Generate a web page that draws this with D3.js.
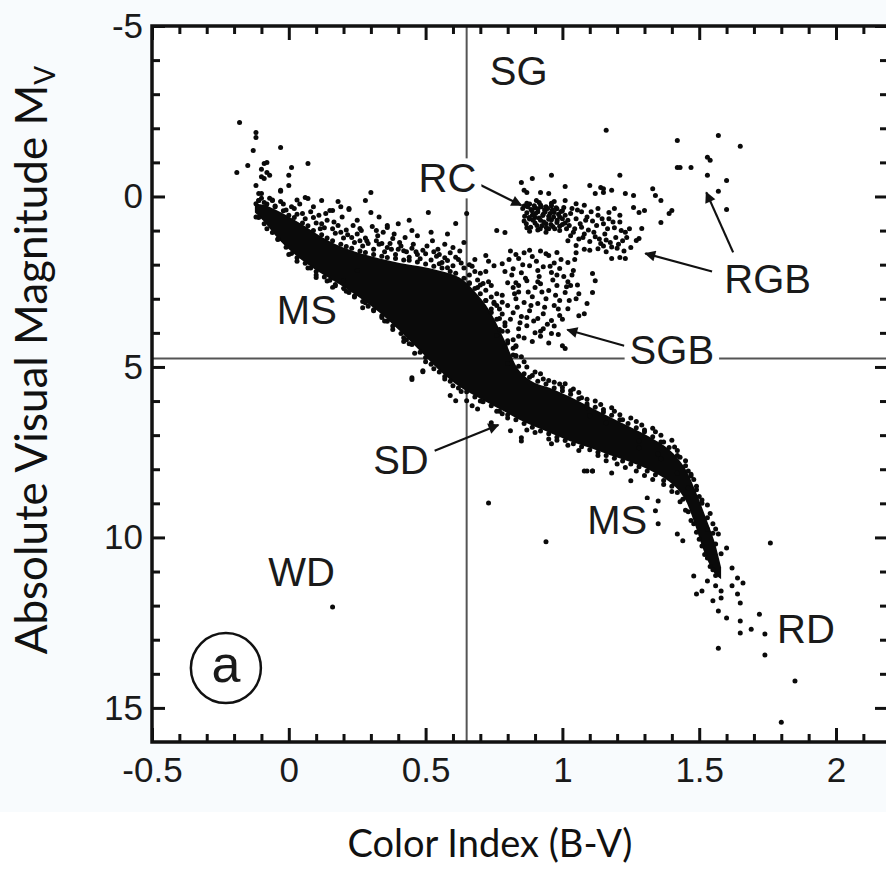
<!DOCTYPE html>
<html>
<head>
<meta charset="utf-8">
<script src="https://cdn.jsdelivr.net/npm/d3@7"></script>
<style>
  body { margin: 0; background: #ffffff; }
  svg { display: block; }
</style>
</head>
<body>
<svg id="chart" width="886" height="878"></svg>
<script>
// ---- Colour-magnitude data: [B-V, Mv] ----

// Solid core of the main sequence: colour index with bright and faint edges
const msCoreBV   = [-0.124,-0.088,-0.033,0.040,0.113,0.186,0.259,0.332,0.405,0.478,0.551,0.624,0.679,0.734,0.788,0.843,0.898,0.953,1.026,1.099,1.172,1.245,1.318,1.391,1.445,1.482,1.518,1.555,1.580];
const msCoreTop  = [0.21,0.25,0.45,0.78,1.15,1.45,1.66,1.82,1.95,2.05,2.18,2.38,2.78,3.35,4.20,5.11,5.46,5.61,5.87,6.17,6.46,6.75,7.05,7.43,7.93,8.55,9.28,10.10,10.87];
const msCoreBot  = [0.47,0.76,1.29,1.82,2.23,2.58,2.97,3.41,3.94,4.52,5.11,5.58,5.84,6.08,6.31,6.55,6.75,6.93,7.17,7.37,7.58,7.78,8.02,8.37,8.84,9.57,10.43,11.04,11.22];

// Stars straddling the bright edge of the core
const msEdgeTop = [
  [-0.11,0.12],[-0.08,0.22],[-0.05,0.30],[-0.02,0.42],[0.00,0.55],[0.02,0.62],[0.05,0.78],[0.07,0.86],
  [0.09,1.00],[0.12,1.12],[0.14,1.22],[0.16,1.30],[0.19,1.40],[0.21,1.47],[0.23,1.52],[0.26,1.60],
  [0.28,1.64],[0.31,1.70],[0.34,1.75],[0.36,1.79],[0.39,1.82],[0.42,1.86],[0.44,1.87],[0.47,1.92],
  [0.50,1.98],[0.53,2.05],[0.56,2.10],[0.59,2.20],[0.61,2.25],[0.64,2.40],[0.66,2.55],[0.68,2.70],
  [0.70,2.85],[0.72,3.05],[0.74,3.30],[0.76,3.60],[0.78,3.95],[0.80,4.30],[0.82,4.65],[0.84,4.98],
  [0.86,5.20],[0.88,5.30],[0.91,5.42],[0.94,5.50],[0.97,5.62],[1.00,5.70],[1.03,5.80],[1.06,5.93],
  [1.09,6.08],[1.12,6.18],[1.15,6.32],[1.18,6.42],[1.21,6.55],[1.24,6.66],[1.27,6.78],[1.30,6.90],
  [1.33,7.05],[1.36,7.20],[1.39,7.36],[1.42,7.60],[1.45,7.90],[1.47,8.20],[1.49,8.60],[1.51,9.00],
  [1.53,9.42],[1.55,9.88]
];

// Stars straddling the faint edge of the core
const msEdgeBottom = [
  [-0.11,0.62],[-0.09,0.80],[-0.06,1.06],[-0.04,1.26],[-0.01,1.49],[0.01,1.67],[0.03,1.80],[0.06,1.96],
  [0.08,2.10],[0.10,2.20],[0.13,2.36],[0.15,2.46],[0.17,2.58],[0.20,2.70],[0.22,2.82],[0.24,2.92],
  [0.27,3.08],[0.29,3.22],[0.31,3.32],[0.34,3.50],[0.36,3.66],[0.38,3.80],[0.41,4.02],[0.43,4.20],
  [0.45,4.34],[0.48,4.57],[0.50,4.72],[0.52,4.92],[0.55,5.15],[0.57,5.28],[0.59,5.42],[0.62,5.62],
  [0.65,5.73],[0.68,5.88],[0.71,6.02],[0.74,6.14],[0.77,6.30],[0.80,6.40],[0.83,6.55],[0.86,6.66],
  [0.89,6.77],[0.92,6.88],[0.95,6.96],[0.98,7.06],[1.01,7.16],[1.04,7.25],[1.07,7.34],[1.10,7.43],
  [1.13,7.50],[1.16,7.60],[1.19,7.68],[1.22,7.76],[1.25,7.85],[1.28,7.93],[1.31,8.05],[1.34,8.16],
  [1.37,8.33],[1.40,8.50],[1.42,8.68],[1.44,8.88],[1.46,9.25],[1.48,9.60],[1.50,10.05],[1.52,10.50],
  [1.54,10.85],[1.56,11.12]
];

// Hot upper main sequence and stars scattered above the band
const hotStars = [
  [-0.18,-2.17],[-0.12,-1.88],[-0.12,-1.73],[-0.13,-1.35],[-0.03,-1.44],[-0.15,-0.91],[-0.19,-0.70],
  [-0.09,-0.97],[-0.08,-1.00],[-0.10,-0.80],[-0.08,-0.70],[-0.07,-0.62],[-0.09,-0.53],[-0.10,-0.58],
  [0.01,-0.85],[0.07,-0.97],[0.00,-0.62],[0.00,-0.32],[-0.03,-0.15],[-0.12,-0.32],[-0.11,-0.09],
  [0.30,-0.12],[0.28,0.12],[0.30,0.47],[0.06,0.03],[0.12,0.12],[0.18,0.15],[0.22,0.38],[0.25,0.70],
  [0.36,0.91],[-0.12,0.21],[-0.06,0.12],[0.16,0.41],[-0.10,-0.09],[-0.03,-0.18],[0.07,0.06],[0.15,0.41],
  [0.22,0.35],[0.36,0.85],[0.45,1.00],[0.47,1.15],[0.51,0.47],[0.61,0.79],[0.26,0.94],[0.32,1.00],
  [0.34,1.38],[0.38,1.23],[0.42,1.59],[0.56,1.94],[0.60,2.03],[0.47,-0.12],[0.65,0.50],
  [0.03,0.10],[0.09,0.30],[0.115,0.95],[0.135,0.50],[0.165,0.75],[0.195,0.60],[0.215,1.12],[0.235,0.85],
  [0.265,1.00],[0.285,1.30],[0.305,0.88],[0.325,1.15],[0.345,1.05],[0.375,1.55],[0.385,1.10],[0.405,1.35],
  [0.425,1.20],[0.455,1.40],[0.465,1.62],[0.505,1.45],[0.525,1.30],[0.545,1.55],[0.570,1.40],[0.600,1.50],
  [0.625,1.60],[0.640,1.35],[0.580,1.10],[0.520,1.05],[0.400,0.80],[0.440,0.70],[0.330,0.60],[0.190,0.30]
];

// Stars scattered further from the bright edge of the main sequence
const msUpperFringe = [
  [-0.10,0.05],[-0.06,0.10],[-0.02,0.22],[0.02,0.35],[0.05,0.50],[0.09,0.62],[0.12,0.80],[0.16,0.95],
  [0.19,1.05],[0.23,1.20],[0.26,1.30],[0.29,1.38],[0.33,1.40],[0.36,1.50],[0.40,1.55],[0.43,1.62],
  [0.47,1.70],[0.50,1.68],[0.54,1.75],[0.57,1.80],[0.62,1.85],[0.68,2.20],[0.71,2.55],[0.74,2.95],
  [0.77,3.30],[0.79,3.70],[0.82,4.20],[0.86,4.85],[0.90,5.15],[0.93,5.35],[0.97,5.45],[1.00,5.60],
  [1.04,5.65],[1.07,5.90],[1.12,6.00],[1.15,6.25],[1.19,6.30],[1.22,6.55],[1.27,6.60],[1.30,6.85],
  [1.34,6.90],[1.37,7.20],[1.41,7.35],[1.43,7.65],[1.46,8.05],[1.48,8.30],[1.50,8.80],[1.53,9.05],
  [1.55,9.60],[1.57,9.90],[1.01,5.49],[1.09,6.20],[1.01,4.46],[0.83,4.67],[0.82,4.45],
  [-0.11,0.12],[-0.09,0.18],[-0.07,0.05],[-0.05,0.28],[-0.03,0.15],[-0.01,0.40],[0.01,0.30],[0.03,0.52],
  [0.04,0.22],[0.06,0.65],[0.08,0.45],[0.10,0.78],[0.11,0.55],[0.13,0.92],[0.14,0.70],[0.17,1.08],
  [0.18,0.85],[0.20,1.22],[0.21,0.98],[0.24,1.35],[0.25,1.10],[0.27,1.45],[0.28,1.22],[0.31,1.55],
  [0.32,1.30],[0.35,1.62],[0.37,1.38],[0.39,1.70],[0.41,1.45],[0.44,1.78],[0.45,1.52],[0.48,1.83],
  [0.49,1.58],[0.52,1.86],[0.53,1.62],[0.55,1.70],[0.58,1.88],[0.59,1.65],[0.61,1.78],[0.63,1.95],
  [0.64,2.10],[0.66,2.30],[0.67,2.05],[0.69,2.45],[0.70,2.25],[0.72,2.75],[0.73,2.50],[0.75,3.10],
  [0.76,2.85],[0.78,3.45],[0.78,3.10],[0.80,3.95],[0.81,3.60],[0.83,4.40],[0.84,4.10],[0.85,4.70],
  [0.87,5.00],[0.89,5.25],[0.92,5.20],[0.95,5.40],[0.99,5.50],[1.03,5.70],[1.06,5.75],[1.09,5.95],
  [1.14,6.10],[1.18,6.20],[1.21,6.40],[1.25,6.50],[1.29,6.70],[1.33,6.80],[1.36,7.00],[1.40,7.15],
  [1.42,7.45],[1.45,7.75],[1.47,8.15],[1.49,8.50],[1.51,8.90],[1.54,9.30],[1.56,9.75],
  [0.66,2.00],[0.70,2.60],[0.72,2.20],[0.74,3.40],[0.76,3.20],[0.77,3.90],[0.79,4.40],[0.81,4.90],
  [0.73,1.90],[0.68,1.85]
];

// Stars scattered below the faint edge of the main sequence
const msLowerFringe = [
  [-0.12,0.60],[-0.08,0.95],[-0.04,1.25],[0.00,1.70],[0.03,1.90],[0.07,2.10],[0.10,2.30],[0.14,2.48],
  [0.17,2.62],[0.21,2.78],[0.24,2.95],[0.28,3.12],[0.31,3.35],[0.35,3.65],[0.38,3.90],[0.42,4.25],
  [0.46,4.60],[0.50,4.85],[0.53,5.05],[0.57,5.35],[0.60,5.55],[0.63,5.72],[0.70,6.00],[0.76,6.30],
  [0.80,6.50],[0.87,6.85],[0.90,6.92],[0.98,7.15],[1.02,7.30],[1.06,7.45],[1.13,7.60],[1.16,7.75],
  [1.20,7.85],[1.23,7.95],[1.27,8.05],[1.30,8.18],[1.33,8.30],[1.37,8.45],[1.40,8.65],[1.43,8.95],
  [1.45,9.20],[1.47,9.50],[1.49,9.85],[1.51,10.25],[1.53,10.60],[1.55,10.95],
  [0.10,2.38],[0.16,2.67],[0.27,3.26],[0.34,3.55],[0.42,4.14],[0.44,4.32],[0.45,5.32],[0.49,5.11],
  [0.25,2.17],[0.20,2.47]
];

// Subdwarfs below the main sequence
const subdwarfStars = [
  [0.45,5.37],[0.49,5.14],[0.59,5.84],[0.61,5.99],[0.65,5.99],[0.67,6.14],[0.69,6.23],[0.78,6.37],
  [0.74,6.64],[0.81,6.87],[0.85,7.08],[0.85,7.17],[0.95,7.11],[0.96,7.25],[1.09,8.05],[1.11,8.05]
];

// Red clump
const redClump = [
  [0.86,0.28],[0.88,0.22],[0.90,0.33],[0.92,0.25],[0.94,0.30],[0.96,0.27],[0.98,0.36],[1.00,0.42],
  [0.87,0.48],[0.89,0.55],[0.91,0.45],[0.93,0.52],[0.95,0.58],[0.97,0.47],[0.99,0.60],[1.01,0.55],
  [0.86,0.72],[0.88,0.66],[0.90,0.78],[0.92,0.70],[0.94,0.80],[0.96,0.68],[0.98,0.76],[1.00,0.82],
  [0.87,0.92],[0.91,0.98],[0.95,0.95],[0.99,1.00],[0.935,0.40],[0.90,0.62],[0.925,0.86],[0.965,0.88],
  [0.885,0.38],[1.02,0.70],[0.97,0.15],[0.905,0.12],
  [0.855,0.35],[0.862,0.58],[0.868,0.80],[0.873,0.30],[0.878,0.62],[0.884,0.90],[0.889,0.42],[0.893,0.70],
  [0.897,0.27],[0.902,0.50],[0.907,0.85],[0.911,0.36],[0.915,0.63],[0.919,0.95],[0.923,0.30],[0.928,0.56],
  [0.932,0.75],[0.937,0.45],[0.941,0.92],[0.946,0.35],[0.950,0.67],[0.955,0.50],[0.958,0.82],[0.963,0.40],
  [0.968,0.60],[0.972,0.95],[0.977,0.33],[0.981,0.70],[0.986,0.52],[0.990,0.87],[0.995,0.44],[1.000,0.65],
  [1.005,0.32],[1.010,0.78],[1.015,0.95],[0.870,0.20],[0.915,0.18],[0.960,0.20],[0.880,1.02],[0.940,1.05]
];

// Red giant branch
const giantBranch = [
  [1.03,0.50],[1.05,0.65],[1.07,0.45],[1.09,0.60],[1.11,0.72],[1.13,0.55],[1.15,0.80],[1.17,0.65],
  [1.19,0.92],[1.21,0.75],[1.23,1.05],[1.04,1.05],[1.06,1.25],[1.08,1.10],[1.10,1.32],[1.12,1.18],
  [1.14,1.38],[1.16,1.28],[1.18,1.48],[1.20,1.52],[1.22,1.30],[1.02,1.30],[1.05,1.44],[1.08,1.55],
  [1.13,1.53],[1.16,1.62],[1.08,0.26],[1.13,0.35],[1.17,0.47],[1.21,0.55],
  [1.025,0.85],[1.035,0.35],[1.045,0.95],[1.055,0.40],[1.065,0.80],[1.075,1.20],[1.085,0.70],[1.095,0.98],
  [1.105,0.45],[1.115,1.05],[1.125,0.85],[1.135,1.25],[1.145,0.65],[1.155,1.10],[1.165,0.95],[1.175,1.35],
  [1.185,0.75],[1.195,1.20],[1.205,1.40],[1.215,1.00],[1.225,1.60],[1.235,1.20],[1.245,0.95],[1.05,1.65],
  [1.10,1.58],[1.15,1.45],[1.03,1.15],[1.07,0.90],
  [1.16,-1.94],[1.42,-1.64],[1.42,-0.85],[0.96,-0.62],[1.21,-0.62],[0.85,-0.41],[0.89,-0.53],
  [0.86,-0.18],[0.87,-0.12],[0.92,-0.12],[0.95,-0.09],[1.01,-0.29],[1.01,0.12],[1.05,0.21],
  [1.10,-0.32],[1.14,-0.26],[1.15,-0.12],[1.18,-0.18],[1.12,-0.09],[1.23,-0.09],[1.26,-0.03],
  [1.26,0.32],[1.28,0.47],[1.30,0.41],[1.33,-0.23],[1.34,-0.03],[1.36,0.12],[1.40,0.41],[1.39,0.50],
  [1.36,0.76],[1.29,0.94],[1.28,1.23],[1.27,1.29],[1.25,1.50],[1.43,-0.85],[1.47,-0.85],[1.53,-1.15],
  [1.54,-1.06],[1.53,-0.62],[1.57,-1.79],[1.65,-1.47],[1.60,-0.47],[1.57,-0.15],[1.60,0.38],
  [1.15,-0.23],[1.19,0.35],[1.18,1.82],[1.23,1.82],[1.21,1.79]
];

// Subgiant branch
const subgiantStars = [
  [0.81,1.60],[0.84,1.82],[0.86,1.65],[0.89,1.76],[0.92,1.60],[0.95,1.73],[0.98,1.64],[0.82,2.12],
  [0.85,2.24],[0.88,2.03],[0.91,2.17],[0.93,2.06],[0.96,2.23],[0.99,2.11],[1.02,1.94],[1.04,2.17],
  [0.80,2.53],[0.84,2.61],[0.87,2.47],[0.90,2.67],[0.92,2.56],[0.95,2.76],[0.98,2.61],[1.01,2.82],
  [1.03,2.61],[0.83,3.00],[0.86,3.11],[0.89,2.94],[0.91,3.14],[0.94,3.00],[0.97,3.20],[0.99,3.05],
  [1.02,3.29],[0.82,3.41],[0.85,3.52],[0.88,3.35],[0.91,3.58],[0.93,3.44],[0.96,3.64],[0.99,3.49],
  [0.84,3.88],[0.87,3.79],[0.90,4.00],[0.93,3.88],[0.96,4.02],[0.77,3.58],[0.79,3.79],[0.76,4.08],
  [0.80,4.23],[0.83,4.38],
  [0.76,1.00],[0.79,1.06],[0.72,1.73],[0.75,2.03],[0.78,1.97],[1.11,2.26],[1.12,2.47],[1.11,2.82],
  [1.06,2.85],[1.09,3.14],[1.08,3.44],[0.74,2.61],[0.83,2.53],[0.82,2.67],[1.00,4.38],[0.83,4.67],
  [0.80,4.90],[0.66,2.53],[0.69,2.67],[0.55,1.97],[0.58,2.09],[0.72,3.05],[0.75,3.14],
  [0.805,1.85],[0.815,2.30],[0.825,2.85],[0.835,3.25],[0.845,3.70],[0.855,2.00],[0.865,2.40],[0.875,2.80],
  [0.885,3.20],[0.895,3.65],[0.905,1.90],[0.915,2.35],[0.925,2.80],[0.935,3.25],[0.945,3.75],[0.955,2.05],
  [0.965,2.45],[0.975,2.90],[0.985,3.30],[0.995,1.85],[1.005,2.35],[1.015,2.65],[1.025,3.05],[1.035,2.30],
  [1.045,1.85],[1.055,2.60],[0.88,1.58],[0.94,1.68],[0.97,1.95],[0.86,4.15],[0.89,4.25],[0.92,4.10],
  [0.95,4.30],[0.985,4.05],[1.06,3.50],[0.80,3.20],[0.78,2.90],[0.79,2.20],[0.83,1.70],[0.87,3.55],
  [0.92,3.95],[0.97,3.80],[1.00,3.60],[1.05,3.00],[0.84,2.80],[0.91,2.50],[0.98,2.30],[1.02,2.50]
];

// Lower main sequence and red dwarfs
const lowerMS = [
  [1.09,6.14],[1.10,6.43],[1.16,6.64],[1.08,8.05],[1.11,8.05],[1.18,8.11],[1.28,7.17],[1.28,7.37],
  [1.35,7.55],[1.36,7.69],[1.42,8.11],[1.25,8.34],[1.31,8.84],[1.35,8.93],[1.34,9.22],[1.35,9.60],
  [1.42,9.90],[1.44,10.10],[1.46,8.55],[1.46,8.84],[1.53,9.75],[1.56,10.19],[1.60,10.31],[1.58,10.48],
  [1.48,11.13],[1.53,11.28],[1.56,11.42],[1.49,11.66],[1.51,11.57],[1.55,11.86],[1.58,11.57],[1.58,11.78],
  [1.62,10.90],[1.64,11.19],[1.66,11.34],[1.62,11.42],[1.64,11.66],[1.65,11.92],
  [1.57,12.16],[1.60,12.36],[1.65,12.45],[1.72,12.25],[1.65,12.80],[1.69,12.69],[1.74,12.83],
  [1.57,13.25],[1.74,13.45],[1.85,14.21],[1.80,15.42]
];

// Isolated stars
const outliers = [[0.73,8.99],[0.94,10.13],[0.16,12.04],[1.76,10.16]];

// Solar reference values
const sunBV = 0.65;
const sunMv = 4.75;

// Axis ticks
const xMajorTicks = [-0.5, 0, 0.5, 1, 1.5, 2];
const xMinorTicks = [-0.4,-0.3,-0.2,-0.1,0.1,0.2,0.3,0.4,0.6,0.7,0.8,0.9,1.1,1.2,1.3,1.4,1.6,1.7,1.8,1.9,2.1];
const xTickLabels = ["-0.5", "0", "0.5", "1", "1.5", "2"];
const yMajorTicks = [-5, 0, 5, 10, 15];
const yMinorTicks = [-4,-3,-2,-1,1,2,3,4,6,7,8,9,11,12,13,14];
const yTickLabels = ["-5", "0", "5", "10", "15"];

// Region annotations
const regionLabels = [
  { text: "SG",  bv: 0.84,  mv: -3.26 },
  { text: "RC",  bv: 0.58,  mv: -0.12 },
  { text: "RGB", bv: 1.75,  mv: 2.82 },
  { text: "SGB", bv: 1.40,  mv: 4.90 },
  { text: "MS",  bv: 0.066, mv: 3.73 },
  { text: "SD",  bv: 0.41,  mv: 8.14 },
  { text: "MS",  bv: 1.20,  mv: 9.90 },
  { text: "WD",  bv: 0.047, mv: 11.42 },
  { text: "RD",  bv: 1.89,  mv: 13.10 }
];
const pointerArrows = [
  { from: [0.697, -0.35], to: [0.850, 0.26] },
  { from: [1.547, 2.20],  to: [1.303, 1.67] },
  { from: [1.624, 1.64],  to: [1.526, -0.12] },
  { from: [1.226, 4.38],  to: [1.018, 3.91] },
  { from: [0.533, 7.46],  to: [0.766, 6.70] }
];
const panelTag = { text: "a", bv: -0.23, mv: 13.83 };

// ---- Drawing ----
const W = 886, H = 878;
const svg = d3.select("#chart");

svg.append("rect").attr("x", 0).attr("y", 0).attr("width", W).attr("height", 812).attr("fill", "#f8fbfd");

const x = d3.scaleLinear().domain([-0.5, 2.19]).range([152, 888]);
const y = d3.scaleLinear().domain([-5, 16]).range([26, 742]);

const defs = svg.append("defs");
defs.append("clipPath").attr("id", "plotClip")
  .append("rect").attr("x", x(-0.5)).attr("y", y(-5))
  .attr("width", x(2.19) - x(-0.5)).attr("height", y(16) - y(-5));
defs.append("marker").attr("id", "arrowHead")
  .attr("viewBox", "0 0 10 10").attr("refX", 9).attr("refY", 5)
  .attr("markerWidth", 17).attr("markerHeight", 11)
  .attr("markerUnits", "userSpaceOnUse").attr("orient", "auto")
  .append("path").attr("d", "M0,0 L10,5 L0,10 Z").attr("fill", "#111");

svg.append("rect").attr("x", x(-0.5)).attr("y", y(-5))
  .attr("width", x(2.19) - x(-0.5)).attr("height", y(16) - y(-5)).attr("fill", "#ffffff");

const plot = svg.append("g").attr("clip-path", "url(#plotClip)");

// Solar reference lines
plot.append("line").attr("x1", x(sunBV)).attr("x2", x(sunBV)).attr("y1", y(-5)).attr("y2", y(16))
  .attr("stroke", "#555").attr("stroke-width", 2);
plot.append("line").attr("x1", x(-0.5)).attr("x2", x(2.19)).attr("y1", y(sunMv)).attr("y2", y(sunMv))
  .attr("stroke", "#555").attr("stroke-width", 2);

const labelFont = "'Liberation Sans', Arial, Helvetica, sans-serif";

// Label knock-outs, so the reference lines break behind the text
const labelG = plot.append("g");
const labelTexts = labelG.selectAll("text.region").data(regionLabels).join("text")
  .attr("class", "region")
  .attr("x", d => x(d.bv)).attr("y", d => y(d.mv))
  .attr("text-anchor", "middle")
  .attr("font-family", labelFont).attr("font-size", 40).attr("fill", "#1a1a1a")
  .text(d => d.text);
labelTexts.each(function () {
  const b = this.getBBox();
  labelG.insert("rect", "text").attr("x", b.x - 5).attr("y", b.y + 2)
    .attr("width", b.width + 10).attr("height", b.height - 4).attr("fill", "#ffffff");
});

// Main-sequence core
const core = msCoreBV.map((bv, i) => ({ bv, top: msCoreTop[i], bot: msCoreBot[i] }));
plot.append("path").datum(core)
  .attr("d", d3.area().x(d => x(d.bv)).y0(d => y(d.top)).y1(d => y(d.bot)).curve(d3.curveCatmullRom))
  .attr("fill", "#0a0a0a");

// Individual stars
const allStars = [].concat(msEdgeTop, msEdgeBottom, hotStars, msUpperFringe, msLowerFringe,
  subdwarfStars, redClump, giantBranch, subgiantStars, lowerMS, outliers);
plot.append("g").selectAll("circle").data(allStars).join("circle")
  .attr("cx", d => x(d[0])).attr("cy", d => y(d[1])).attr("r", 2.5).attr("fill", "#0a0a0a");

// Pointer arrows
plot.append("g").selectAll("line").data(pointerArrows).join("line")
  .attr("x1", d => x(d.from[0])).attr("y1", d => y(d.from[1]))
  .attr("x2", d => x(d.to[0])).attr("y2", d => y(d.to[1]))
  .attr("stroke", "#111").attr("stroke-width", 2.2).attr("marker-end", "url(#arrowHead)");

// Bring label text above the stars
labelG.raise();

// Panel tag
plot.append("circle").attr("cx", x(panelTag.bv)).attr("cy", y(panelTag.mv)).attr("r", 35)
  .attr("fill", "none").attr("stroke", "#111").attr("stroke-width", 2.5);
plot.append("text").attr("x", x(panelTag.bv)).attr("y", y(panelTag.mv) + 14)
  .attr("text-anchor", "middle").attr("font-family", labelFont).attr("font-size", 52)
  .attr("fill", "#1a1a1a").text(panelTag.text);

// Axes: inward ticks on all four sides
function styleAxis(g) {
  g.select(".domain").remove();
  g.selectAll(".tick line").attr("stroke", "#111").attr("stroke-width", 3);
  g.selectAll(".tick text").attr("font-family", labelFont).attr("font-size", 35).attr("fill", "#1a1a1a");
}
const xFmt = d => xTickLabels[xMajorTicks.indexOf(d)];
const yFmt = d => yTickLabels[yMajorTicks.indexOf(d)];

svg.append("g").attr("transform", `translate(0,${y(16)})`)
  .call(d3.axisBottom(x).tickValues(xMajorTicks).tickSize(-14).tickPadding(15).tickFormat(xFmt)).call(styleAxis);
svg.append("g").attr("transform", `translate(0,${y(16)})`)
  .call(d3.axisBottom(x).tickValues(xMinorTicks).tickSize(-8).tickFormat("")).call(styleAxis);
svg.append("g").attr("transform", `translate(0,${y(-5)})`)
  .call(d3.axisTop(x).tickValues(xMajorTicks).tickSize(-14).tickFormat("")).call(styleAxis);
svg.append("g").attr("transform", `translate(0,${y(-5)})`)
  .call(d3.axisTop(x).tickValues(xMinorTicks).tickSize(-8).tickFormat("")).call(styleAxis);
svg.append("g").attr("transform", `translate(${x(-0.5)},0)`)
  .call(d3.axisLeft(y).tickValues(yMajorTicks).tickSize(-13).tickPadding(9).tickFormat(yFmt)).call(styleAxis);
svg.append("g").attr("transform", `translate(${x(-0.5)},0)`)
  .call(d3.axisLeft(y).tickValues(yMinorTicks).tickSize(-8).tickFormat("")).call(styleAxis);
svg.append("g").attr("transform", `translate(${x(2.19)},0)`)
  .call(d3.axisRight(y).tickValues(yMajorTicks).tickSize(-13).tickFormat("")).call(styleAxis);
svg.append("g").attr("transform", `translate(${x(2.19)},0)`)
  .call(d3.axisRight(y).tickValues(yMinorTicks).tickSize(-8).tickFormat("")).call(styleAxis);

// Plot frame
svg.append("rect").attr("x", x(-0.5)).attr("y", y(-5))
  .attr("width", x(2.19) - x(-0.5)).attr("height", y(16) - y(-5))
  .attr("fill", "none").attr("stroke", "#111").attr("stroke-width", 3.5);

// Axis titles
const titleFont = "Lato, 'Open Sans', sans-serif";
svg.append("text").attr("x", 490).attr("y", 857).attr("text-anchor", "middle")
  .attr("font-family", titleFont).attr("font-size", 38).attr("fill", "#111")
  .text("Color Index (B-V)");
const yTitle = svg.append("text").attr("transform", "translate(47,360) rotate(-90)")
  .attr("text-anchor", "middle").attr("font-family", titleFont).attr("font-size", 44).attr("fill", "#111");
yTitle.append("tspan").text("Absolute Visual Magnitude M");
yTitle.append("tspan").attr("font-size", 28).attr("dy", 8).text("V");
</script>
</body>
</html>
